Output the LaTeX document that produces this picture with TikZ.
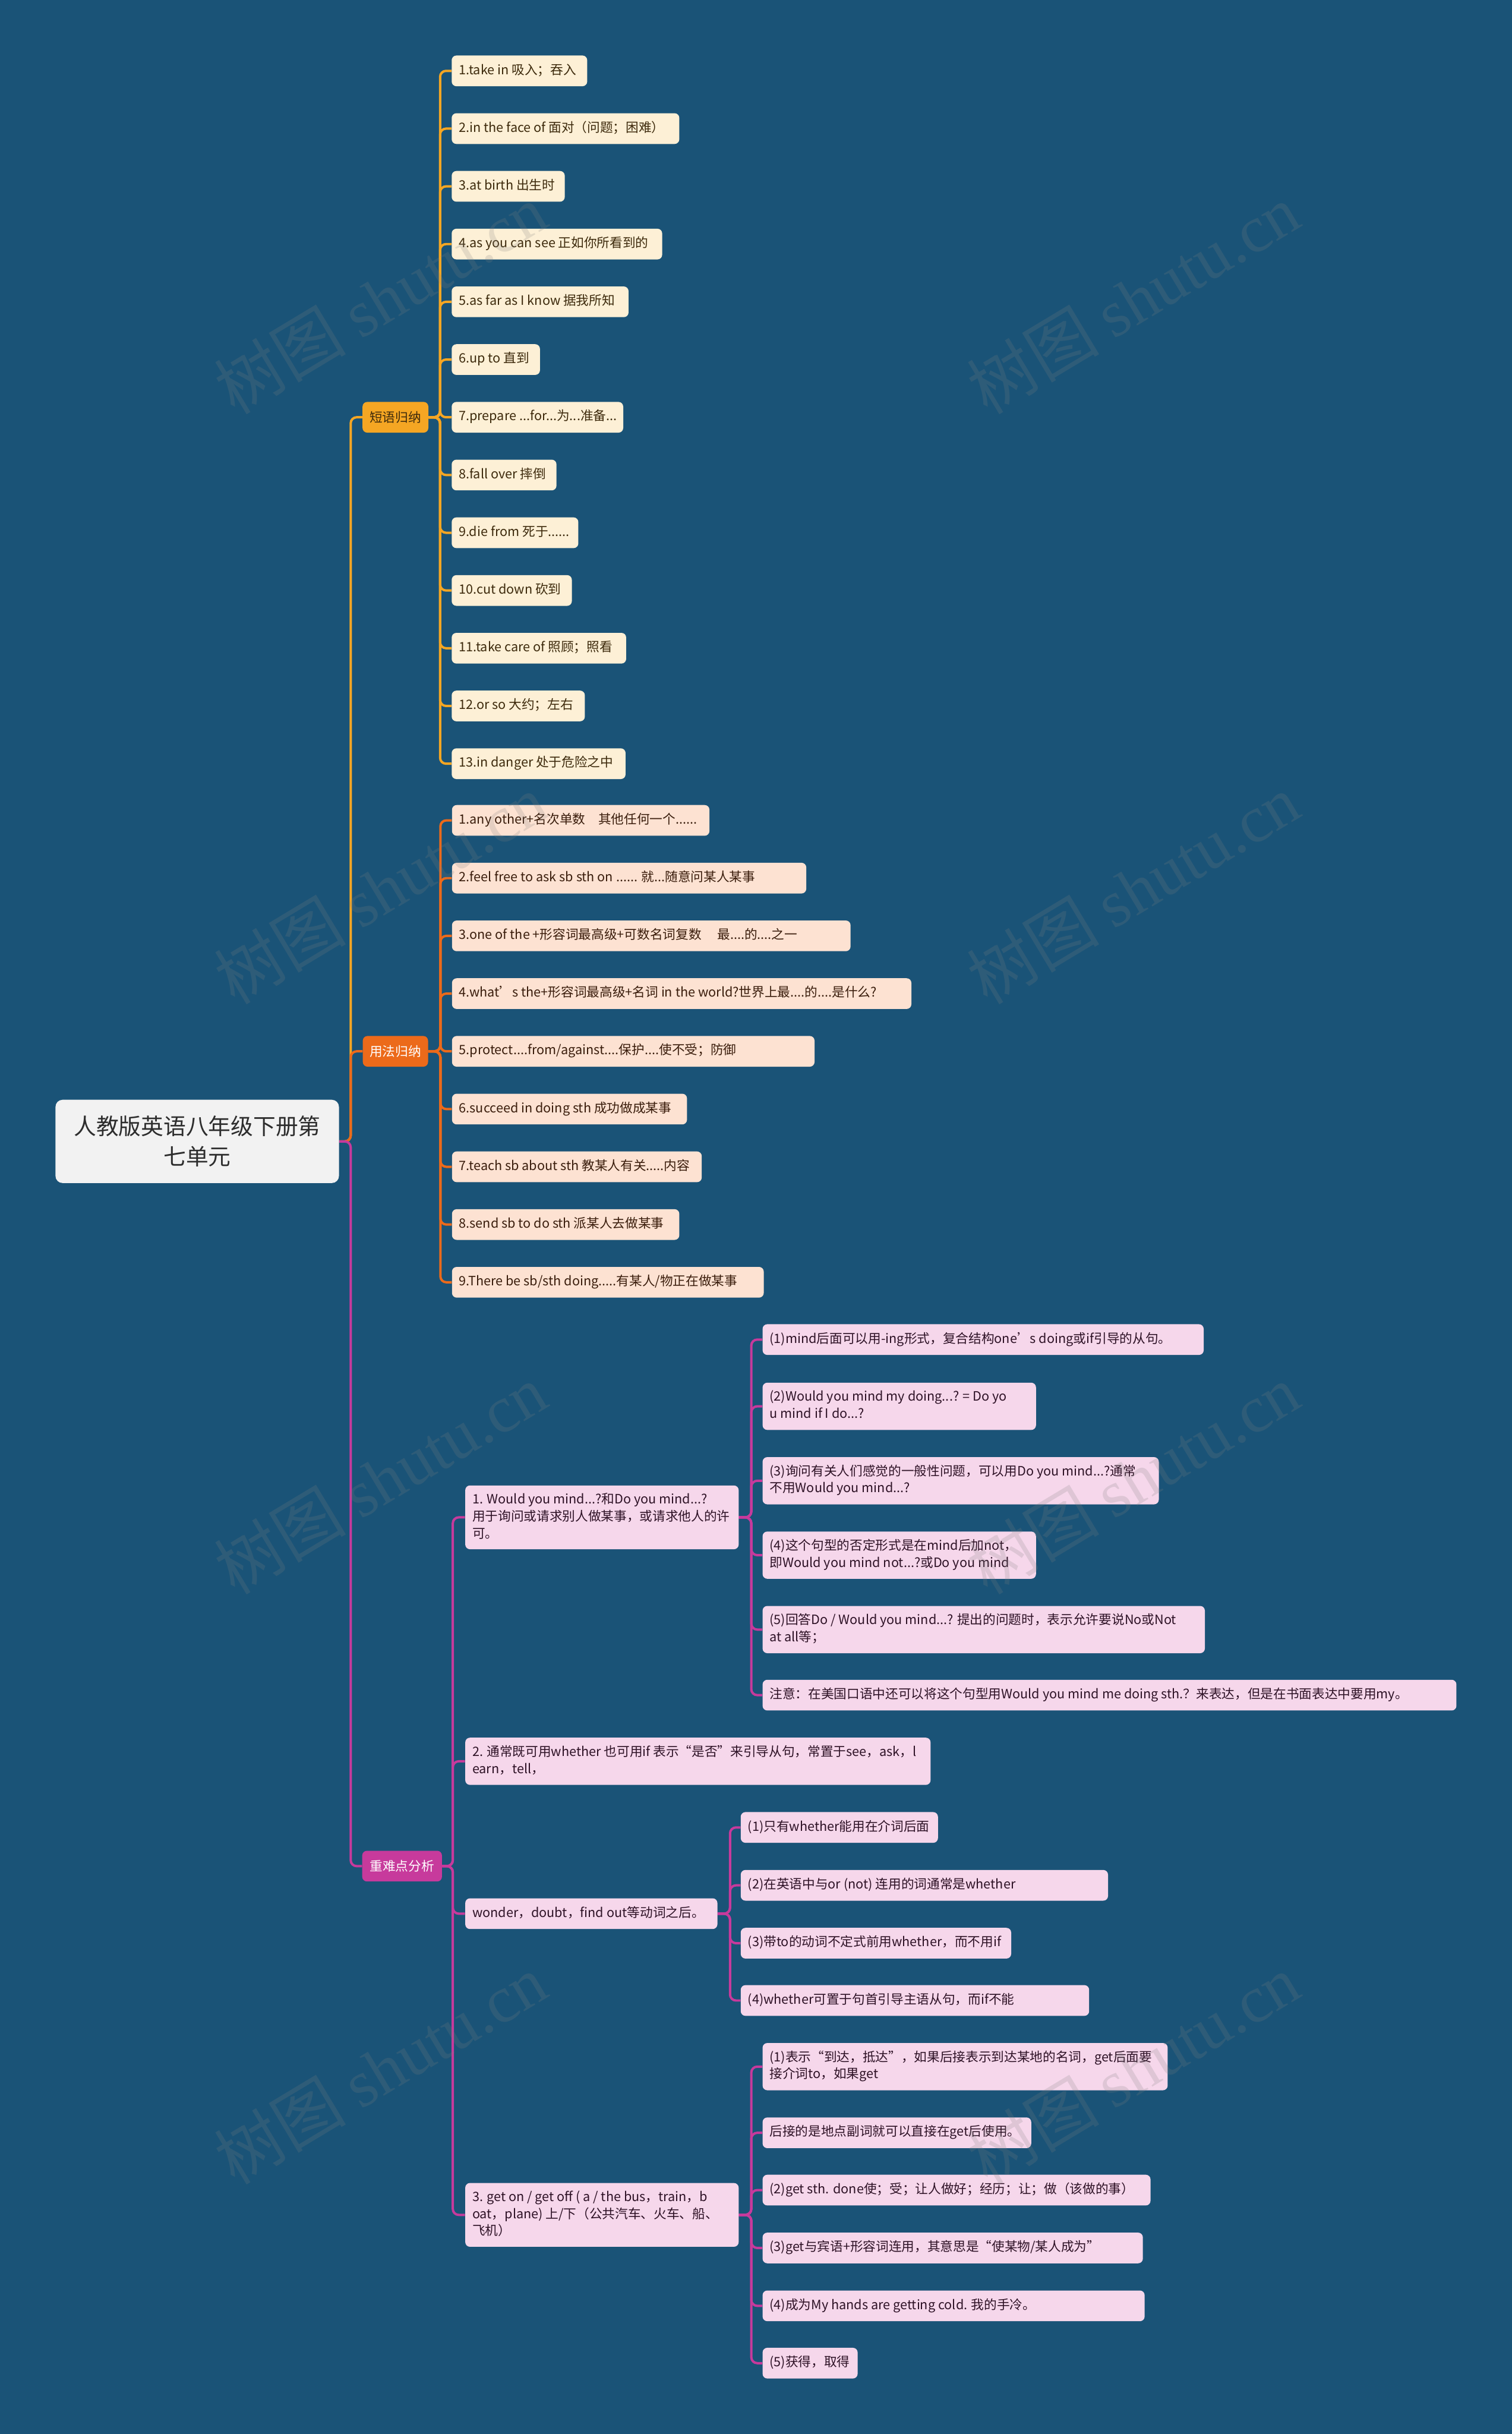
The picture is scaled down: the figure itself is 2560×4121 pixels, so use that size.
\documentclass[tikz,border=0pt]{standalone}
\usepackage{fontspec}
\setmainfont{Noto Sans CJK SC}
\newfontfamily\wmfont{Liberation Serif}
\pgfdeclarelayer{back}
\pgfdeclarelayer{lines}
\pgfsetlayers{back,lines,main}
\definecolor{bgc}{HTML}{1A5377}
\definecolor{gold}{HTML}{F5A623}
\definecolor{goldleaf}{HTML}{FDF0D6}
\definecolor{goldtext}{HTML}{3D2A0C}
\definecolor{orng}{HTML}{EC6A1A}
\definecolor{orngleaf}{HTML}{FDE2D2}
\definecolor{orngtext}{HTML}{3A1D0C}
\definecolor{mag}{HTML}{C73A9C}
\definecolor{magleaf}{HTML}{F6D7EB}
\definecolor{magtext}{HTML}{2E1226}
\definecolor{rootfill}{HTML}{F2F2F2}
\definecolor{roottext}{HTML}{2D2D2D}
\newcommand{\bx}[2]{\makebox[\dimexpr #1pt-12pt\relax][l]{\begin{tabular}{@{}l@{}}#2\end{tabular}}}
\tikzset{
  mmbox/.style={rounded corners=4pt, inner xsep=6pt, inner ysep=0pt, anchor=west,
    font=\fontsize{10.9pt}{14.5pt}\selectfont},
  one/.style={minimum height=26pt},
  two/.style={minimum height=40pt},
  three/.style={minimum height=54pt},
  gleaf/.style={mmbox, one, fill=goldleaf, text=goldtext},
  oleaf/.style={mmbox, one, fill=orngleaf, text=orngtext},
  mleaf/.style={mmbox, fill=magleaf, text=magtext},
  branch/.style={rounded corners=4pt, inner sep=0pt, anchor=west, minimum height=26pt,
    minimum width=#1, font=\fontsize{10.9pt}{14.5pt}\selectfont},
  rootbox/.style={rounded corners=6pt, inner sep=0pt, fill=rootfill, text=roottext,
    minimum width=240pt, minimum height=70.5pt, align=center,
    font=\fontsize{19pt}{25.5pt}\selectfont},
  gline/.style={draw=gold, line width=2pt, rounded corners=5pt},
  oline/.style={draw=orng, line width=2pt, rounded corners=5pt},
  mline/.style={draw=mag, line width=2pt, rounded corners=5pt},
  wm/.style={rotate=31, font=\fontsize{56pt}{56pt}\selectfont, text=gray, opacity=0.2, inner sep=0pt}
}
\begin{document}
\begin{tikzpicture}[x=0.5pt,y=-0.5pt]
\useasboundingbox (0,0) rectangle (2560,4121);
\begin{pgfonlayer}{back}
\fill[bgc] (0,0) rectangle (2560,4121);
\end{pgfonlayer}

\node[rootbox] (root) at (334,1932.5) {人教版英语八年级下册第\\七单元};

\node[branch=55.75pt, fill=gold, text=goldtext] (b1) at (613.5,706.5) {短语归纳};
\node[branch=55.25pt, fill=orng, text=white] (b2) at (614,1780) {用法归纳};
\node[branch=67.5pt, fill=mag, text=white] (b3) at (613,3159.5) {重难点分析};

% group 1
\node[gleaf] (g1) at (764.5,120) {\bx{114.75}{1.take in 吸入；吞入}};
\node[gleaf] (g2) at (764.5,217.75) {\bx{192.75}{2.in the face of 面对（问题；困难）}};
\node[gleaf] (g3) at (764.5,315.5) {\bx{95.75}{3.at birth 出生时}};
\node[gleaf] (g4) at (764.5,413.25) {\bx{178.25}{4.as you can see 正如你所看到的}};
\node[gleaf] (g5) at (764.5,511) {\bx{149.75}{5.as far as I know 据我所知}};
\node[gleaf] (g6) at (764.5,608.75) {\bx{74.75}{6.up to 直到}};
\node[gleaf] (g7) at (764.5,706.5) {\bx{145.25}{7.prepare ...for...为...准备...}};
\node[gleaf] (g8) at (764.5,804.25) {\bx{88.75}{8.fall over 摔倒}};
\node[gleaf] (g9) at (764.5,902) {\bx{107.25}{9.die from 死于......}};
\node[gleaf] (g10) at (764.5,999.75) {\bx{101.75}{10.cut down 砍到}};
\node[gleaf] (g11) at (764.5,1097.5) {\bx{147.75}{11.take care of 照顾；照看}};
\node[gleaf] (g12) at (764.5,1195.25) {\bx{112.75}{12.or so 大约；左右}};
\node[gleaf] (g13) at (764.5,1293) {\bx{147.25}{13.in danger 处于危险之中}};

% group 2
\node[oleaf] (o1) at (765,1389) {\bx{218}{1.any other+名次单数　其他任何一个......}};
\node[oleaf] (o2) at (765,1486.75) {\bx{300}{2.feel free to ask sb sth on ...... 就...随意问某人某事}};
\node[oleaf] (o3) at (765,1584.5) {\bx{337.5}{3.one of the +形容词最高级+可数名词复数　 最....的....之一}};
\node[oleaf] (o4) at (765,1682.25) {\bx{389}{4.what’s the+形容词最高级+名词 in the world?世界上最....的....是什么?}};
\node[oleaf] (o5) at (765,1780) {\bx{307}{5.protect....from/against....保护....使不受；防御}};
\node[oleaf] (o6) at (765,1877.75) {\bx{199}{6.succeed in doing sth 成功做成某事}};
\node[oleaf] (o7) at (765,1975.5) {\bx{211.5}{7.teach sb about sth 教某人有关.....内容}};
\node[oleaf] (o8) at (765,2073.25) {\bx{192.5}{8.send sb to do sth 派某人去做某事}};
\node[oleaf] (o9) at (765,2171) {\bx{264}{9.There be sb/sth doing.....有某人/物正在做某事}};

% group 3 level 2
\node[mleaf, three] (m1) at (787.5,2569) {\bx{231.5}{1. Would you mind...?和Do you mind...?\\用于询问或请求别人做某事，或请求他人的许\\可。}};
\node[mleaf, two] (m2) at (787.5,2982) {\bx{394}{2. 通常既可用whether 也可用if 表示“是否”来引导从句，常置于see，ask，l\\earn，tell，}};
\node[mleaf, one] (m3) at (787.5,3240) {\bx{213.5}{wonder，doubt，find out等动词之后。}};
\node[mleaf, three] (m4) at (787.5,3750) {\bx{231.5}{3. get on / get off ( a / the bus，train，b\\oat，plane) 上/下（公共汽车、火车、船、\\飞机）}};

% level 3 under m1
\node[mleaf, one] (a1) at (1291,2268) {\bx{373.5}{(1)mind后面可以用-ing形式，复合结构one’s doing或if引导的从句。}};
\node[mleaf, two] (a2) at (1291,2381) {\bx{231.5}{(2)Would you mind my doing...? = Do yo\\u mind if I do...?}};
\node[mleaf, two] (a3) at (1291,2507) {\bx{335.5}{(3)询问有关人们感觉的一般性问题，可以用Do you mind...?通常\\不用Would you mind...?}};
\node[mleaf, two] (a4) at (1291,2633) {\bx{231.5}{(4)这个句型的否定形式是在mind后加not，\\即Would you mind not...?或Do you mind}};
\node[mleaf, two] (a5) at (1291,2759) {\bx{374.5}{(5)回答Do / Would you mind...? 提出的问题时，表示允许要说No或Not\\at all等；}};
\node[mleaf, one] (a6) at (1291,2870) {\bx{587.5}{注意：在美国口语中还可以将这个句型用Would you mind me doing sth.？来表达，但是在书面表达中要用my。}};

% level 3 under m3
\node[mleaf, one] (w1) at (1254,3094) {\bx{167}{(1)只有whether能用在介词后面}};
\node[mleaf, one] (w2) at (1254,3192) {\bx{311}{(2)在英语中与or (not) 连用的词通常是whether}};
\node[mleaf, one] (w3) at (1254,3290) {\bx{229}{(3)带to的动词不定式前用whether，而不用if}};
\node[mleaf, one] (w4) at (1254,3387) {\bx{295}{(4)whether可置于句首引导主语从句，而if不能}};

% level 3 under m4
\node[mleaf, two] (c1) at (1291,3499) {\bx{343}{(1)表示“到达，抵达”，如果后接表示到达某地的名词，get后面要\\接介词to，如果get}};
\node[mleaf, one] (c2) at (1291,3611) {\bx{227.5}{后接的是地点副词就可以直接在get后使用。}};
\node[mleaf, one] (c3) at (1291,3708) {\bx{328.5}{(2)get sth. done使；受；让人做好；经历；让；做（该做的事）}};
\node[mleaf, one] (c4) at (1291,3806) {\bx{322}{(3)get与宾语+形容词连用，其意思是“使某物/某人成为”}};
\node[mleaf, one] (c5) at (1291,3904) {\bx{323.5}{(4)成为My hands are getting cold. 我的手冷。}};
\node[mleaf, one] (c6) at (1291,4001) {\bx{80.5}{(5)获得，取得}};

\begin{pgfonlayer}{lines}
\draw[gline] (root.east) -- ++(19.5,0) |- (b1.west);
\draw[oline] (root.east) -- ++(19.5,0) |- (b2.west);
\draw[mline] (root.east) -- ++(19.5,0) |- (b3.west);
\foreach \n in {g1,g2,g3,g4,g5,g6,g7,g8,g9,g10,g11,g12,g13}
  \draw[gline] (b1.east) -- ++(19.5,0) |- (\n.west);
\foreach \n in {o1,o2,o3,o4,o5,o6,o7,o8,o9}
  \draw[oline] (b2.east) -- ++(20.5,0) |- (\n.west);
\foreach \n in {m1,m2,m3,m4}
  \draw[mline] (b3.east) -- ++(18,0) |- (\n.west);
\foreach \n in {a1,a2,a3,a4,a5,a6}
  \draw[mline] (m1.east) -- ++(21,0) |- (\n.west);
\foreach \n in {w1,w2,w3,w4}
  \draw[mline] (m3.east) -- ++(21,0) |- (\n.west);
\foreach \n in {c1,c2,c3,c4,c5,c6}
  \draw[mline] (m4.east) -- ++(21,0) |- (\n.west);
\end{pgfonlayer}

\foreach \x/\k in {644/L,1919/R}
  \foreach \y/\j in {506/1,1505/2,2504/3,3503/4}
    \node[wm] (wm\k\j) at (\x,\y) {树图 {\wmfont shutu.cn}};
\end{tikzpicture}
\end{document}
